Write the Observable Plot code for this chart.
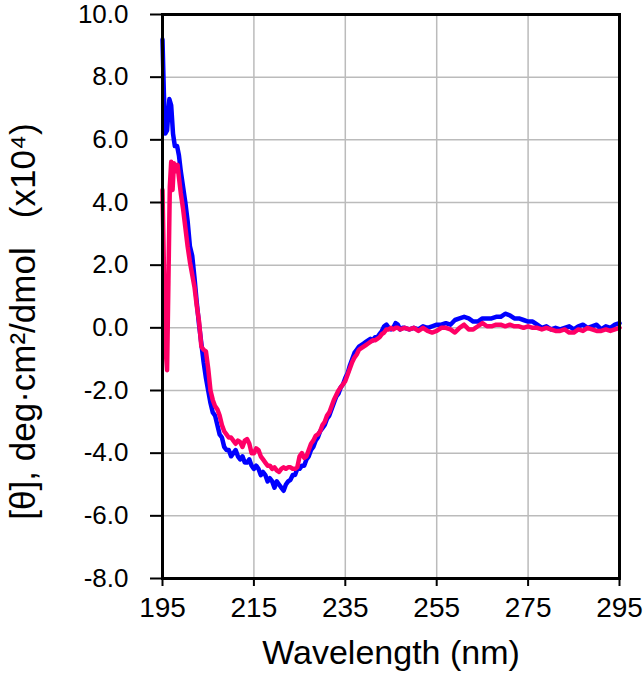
<!DOCTYPE html>
<html><head><meta charset="utf-8">
<script src="https://cdn.jsdelivr.net/npm/d3@7"></script>
<script src="https://cdn.jsdelivr.net/npm/@observablehq/plot@0.6"></script>
<style>body{margin:0;background:#fff}</style>
</head><body><div id="chart"></div>
<script>
const xTicks = [195, 215, 235, 255, 275, 295];
const yTicks = [-8, -6, -4, -2, 0, 2, 4, 6, 8, 10];
const xTitle = "Wavelength (nm)";
const yTitle = "[θ], deg·cm²/dmol\u00a0\u00a0\u00a0(x10⁴)";

const blueWl = [195.0,195.3,195.6,196.0,196.5,196.9,197.3,197.7,198.2,198.6,199.0,199.5,200.0,200.5,201.0,201.5,202.0,202.5,203.0,203.5,204.0,204.5,205.0,205.5,206.0,206.5,207.0,207.5,208.0,208.5,209.0,209.5,210.0,210.5,211.0,211.5,212.0,212.5,213.0,213.5,214.0,214.5,215.0,215.5,216.0,216.5,217.0,217.5,218.0,218.5,219.0,219.5,220.0,220.5,221.0,221.5,222.0,222.5,223.0,223.5,224.0,224.5,225.0,225.5,226.0,226.5,227.0,227.5,228.0,228.5,229.0,229.5,230.0,230.5,231.0,231.5,232.0,232.5,233.0,233.5,234.0,234.5,235.0,235.5,236.0,236.5,237.0,237.5,238.0,238.5,239.0,239.5,240.0,240.5,241.0,241.5,242.0,242.5,243.0,243.5,244.0,244.5,245.0,245.5,246.0,246.5,247.0,247.5,248,249,250,251,252,253,254,255,256,257,258,259,260,261,262,263,264,265,266,267,268,269,270,271,272,273,274,275,276,277,278,279,280,281,282,283,284,285,286,287,288,289,290,291,292,293,294,295];
const blueVal = [9.2,7.5,6.2,6.3,7.3,7.1,6.2,5.8,5.8,5.5,5.0,4.5,4.0,3.4,2.6,2.3,1.6,0.8,0.1,-0.5,-1.1,-1.6,-2.0,-2.4,-2.7,-2.8,-3.1,-3.4,-3.5,-3.8,-3.9,-3.9,-4.1,-4.0,-3.9,-4.1,-4.2,-4.1,-4.3,-4.3,-4.2,-4.4,-4.5,-4.4,-4.5,-4.7,-4.6,-4.7,-4.9,-4.8,-4.9,-5.1,-4.9,-5.0,-5.1,-5.2,-5.0,-4.9,-4.85,-4.7,-4.7,-4.5,-4.5,-4.4,-4.4,-4.2,-4.1,-3.9,-3.8,-3.6,-3.5,-3.3,-3.2,-3.1,-2.9,-2.8,-2.6,-2.4,-2.2,-2.1,-1.9,-1.8,-1.6,-1.45,-1.2,-1.0,-0.8,-0.7,-0.6,-0.55,-0.5,-0.45,-0.4,-0.35,-0.4,-0.3,-0.3,-0.2,-0.1,0.05,0.1,0.0,-0.05,0.0,0.15,0.1,-0.05,0.0,0.0,-0.05,0.0,-0.05,0.05,0.0,0.05,0.1,0.1,0.15,0.1,0.25,0.3,0.35,0.3,0.2,0.2,0.3,0.3,0.3,0.35,0.35,0.45,0.4,0.3,0.3,0.25,0.2,0.2,0.1,0.0,0.05,-0.05,0.0,-0.05,0.0,0.05,-0.05,0.05,0.1,0.0,0.05,0.1,-0.05,0.05,0.0,0.1,0.15];

const pinkWl = [195.0,195.3,195.6,196.0,196.3,196.6,196.9,197.2,197.5,197.9,198.3,198.6,199.0,199.5,200.0,200.5,201.0,201.5,202.0,202.5,203.0,203.5,204.0,204.5,205.0,205.5,206.0,206.5,207.0,207.5,208.0,208.5,209.0,209.5,210.0,210.5,211.0,211.5,212.0,212.5,213.0,213.5,214.0,214.5,215.0,215.5,216.0,216.5,217.0,217.5,218.0,218.5,219.0,219.5,220.0,220.5,221.0,221.5,222.0,222.5,223.0,223.5,224.0,224.5,225.0,225.5,226.0,226.5,227.0,227.5,228.0,228.5,229.0,229.5,230.0,230.5,231.0,231.5,232.0,232.5,233.0,233.5,234.0,234.5,235.0,235.5,236.0,236.5,237.0,237.5,238.0,238.5,239.0,239.5,240.0,240.5,241.0,241.5,242.0,242.5,243.0,243.5,244.0,244.5,245.0,245.5,246.0,246.5,247,248,249,250,251,252,253,254,255,256,257,258,259,260,261,262,263,264,265,266,267,268,269,270,271,272,273,274,275,276,277,278,279,280,281,282,283,284,285,286,287,288,289,290,291,292,293,294,295];
const pinkVal = [4.4,2.0,-0.5,-1.35,1.5,4.5,5.3,4.4,5.25,5.0,5.2,4.8,4.3,3.8,3.2,2.6,2.1,1.7,1.3,0.7,0.2,-0.6,-0.7,-0.75,-1.3,-2.0,-2.3,-2.5,-2.6,-2.8,-3.1,-3.3,-3.4,-3.5,-3.5,-3.6,-3.7,-3.6,-3.65,-3.8,-3.6,-3.55,-3.7,-4.0,-4.0,-3.85,-3.9,-4.1,-4.2,-4.3,-4.4,-4.4,-4.5,-4.45,-4.55,-4.6,-4.5,-4.45,-4.5,-4.45,-4.45,-4.5,-4.5,-4.45,-4.1,-4.0,-4.15,-4.1,-3.9,-3.7,-3.6,-3.45,-3.4,-3.3,-3.1,-3.0,-2.8,-2.7,-2.5,-2.3,-2.15,-2.0,-1.9,-1.8,-1.7,-1.5,-1.3,-1.1,-0.95,-0.85,-0.7,-0.65,-0.6,-0.55,-0.5,-0.45,-0.4,-0.4,-0.35,-0.3,-0.2,-0.15,-0.05,-0.05,0.0,-0.05,0.0,0.0,-0.05,0.0,-0.05,0.0,-0.1,0.0,-0.1,-0.15,-0.1,0.0,0.0,-0.05,-0.15,0.0,0.1,-0.05,-0.05,0.05,0.15,0.05,0.05,0.1,0.1,0.05,0.1,0.05,0.05,0.0,0.05,0.0,0.0,-0.05,0.0,-0.05,-0.1,-0.1,-0.05,-0.15,-0.15,-0.05,-0.1,0.0,-0.05,-0.1,-0.1,-0.05,-0.1,-0.05,0.0];

const blue = blueWl.map((w, i) => ({w, v: blueVal[i]}));
const pink = pinkWl.map((w, i) => ({w, v: pinkVal[i]}));

const chart = Plot.plot({
  width: 643, height: 680,
  marginLeft: 162, marginRight: 24, marginTop: 14, marginBottom: 102,
  style: {fontFamily: "'Liberation Sans', Arial, sans-serif", background: "#fff", color: "black"},
  x: {domain: [195, 295]},
  y: {domain: [-8, 10]},
  marks: [
    Plot.gridX(xTicks, {stroke: "#bbb", strokeOpacity: 1, strokeWidth: 1.5}),
    Plot.gridY(yTicks, {stroke: "#bbb", strokeOpacity: 1, strokeWidth: 1.5}),
    Plot.line(blue, {x: "w", y: "v", stroke: "#0000ff", strokeWidth: 4.5, curve: "linear"}),
    Plot.line(pink, {x: "w", y: "v", stroke: "#ff0066", strokeWidth: 4.5, curve: "linear"}),
    Plot.axisX(xTicks, {tickSize: 8, tickPadding: 11, fontSize: 28, strokeWidth: 2, label: null, tickFormat: d => String(d)}),
    Plot.axisY(yTicks, {tickSize: 12, tickPadding: 22, fontSize: 26, strokeWidth: 2, label: null, tickFormat: d => d.toFixed(1)}),
    Plot.frame({stroke: "black", strokeWidth: 3}),
    Plot.text([xTitle], {frameAnchor: "bottom", dy: 85, fontSize: 34, fill: "black"}),
    Plot.text([yTitle], {frameAnchor: "left", textAnchor: "middle", dx: -139, dy: 25, rotate: -90, fontSize: 35, fill: "black"})
  ]
});
document.getElementById("chart").append(chart);
</script>
</body></html>
